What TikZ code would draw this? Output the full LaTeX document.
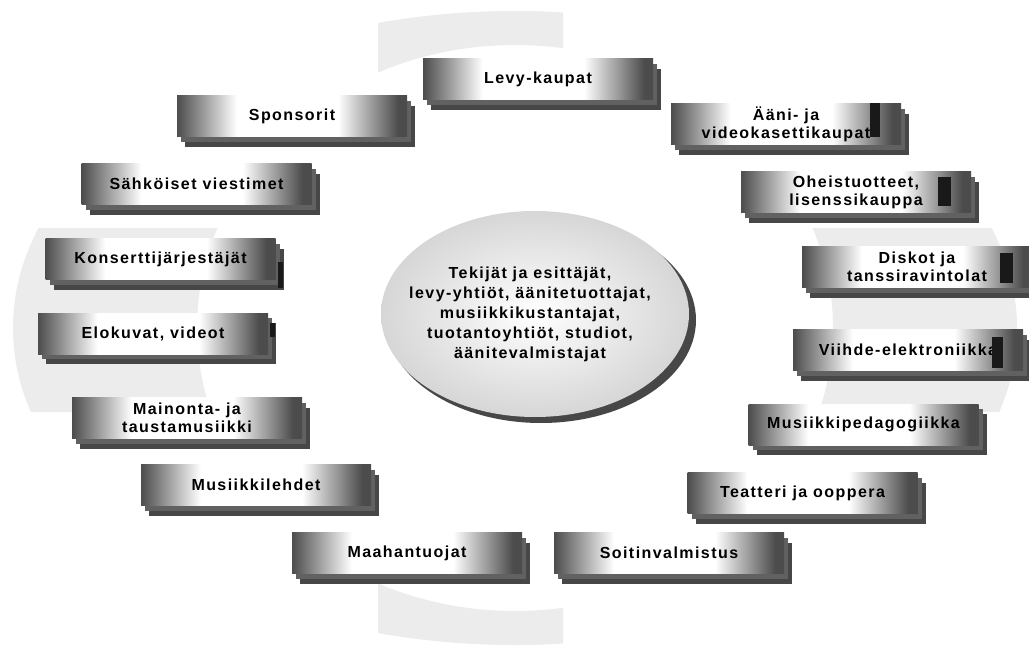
\documentclass[tikz,border=0pt]{standalone}
\usepackage{fontspec}
\newfontfamily\boxfont[LetterSpace=9]{Liberation Sans}
\usetikzlibrary{shadows}
\pgfdeclarehorizontalshading{tileshade}{100bp}{color(0bp)=(black!70); color(25bp)=(black!70); color(38bp)=(white); color(60bp)=(white); color(73bp)=(black!70); color(100bp)=(black!70)}
\tikzset{
  tile/.style={rectangle, minimum width=172.5pt, minimum height=30.75pt, inner sep=1pt,
    align=center, font=\boxfont\bfseries\fontsize{12}{13.5}\selectfont, shading=tileshade,
    general shadow={shadow xshift=6pt, shadow yshift=-7.5pt, fill=black!72},
    general shadow={shadow xshift=3pt, shadow yshift=-3.75pt, fill=black!62}},
  hub/.style={align=center, font=\boxfont\bfseries\fontsize{12}{15}\selectfont},
  artifact/.style={fill=black!90}
}
\begin{document}
\begin{tikzpicture}[x=0.75pt,y=-0.75pt]
\useasboundingbox (0,0) rectangle (1029,653);
\fill[white] (0,0) rectangle (1029,653);
% faint background ring
\begin{scope}
  \clip (378,0) rectangle (563,653) (0,228) rectangle (1029,412);
  \fill[gray!15, even odd rule] (515,328) ellipse [x radius=502, y radius=317]
                                (515,328) ellipse [x radius=318, y radius=283];
\end{scope}
% central ellipse
\fill[black!72] (541,320) ellipse [x radius=155, y radius=103];
\shade[inner color=white, outer color=gray!32] (535,314) ellipse [x radius=154, y radius=103];
\node[hub] (center) at (530,314) {Tekijät ja esittäjät,\\levy-yhtiöt, äänitetuottajat,\\musiikkikustantajat,\\tuotantoyhtiöt, studiot,\\äänitevalmistajat};
% tiles
\node[tile] (levy)      at (538,79)    {Levy-kaupat};
\node[tile] (spons)     at (292,116)   {Sponsorit};
\node[tile] (aani)      at (786,124)   {Ääni- ja\\videokasettikaupat};
\node[tile] (sahko)     at (196.5,184) {Sähköiset viestimet};
\node[tile] (oheis)     at (856,192)   {Oheistuotteet,\\lisenssikauppa};
\node[tile] (konsertti) at (160.5,259) {Konserttijärjestäjät};
\node[tile] (disko)     at (917,267)   {Diskot ja\\tanssiravintolat};
\node[tile] (eloku)     at (153,333.5) {Elokuvat, videot};
\node[tile] (viihde)    at (908,350)   {Viihde-elektroniikka};
\node[tile] (mainonta)  at (187,418)   {Mainonta- ja\\taustamusiikki};
\node[tile] (pedag)     at (863.5,424.5) {Musiikkipedagogiikka};
\node[tile] (lehdet)    at (256,485)   {Musiikkilehdet};
\node[tile] (teatteri)  at (802.5,493) {Teatteri ja ooppera};
\node[tile] (maahan)    at (407,553)   {Maahantuojat};
\node[tile] (soitin)    at (669,553)   {Soitinvalmistus};
% dark bars seen at some tile ends
\fill[artifact] (870,103) rectangle (880,137);
\fill[artifact] (938,177) rectangle (951,206);
\fill[artifact] (1000,253) rectangle (1013,283);
\fill[artifact] (992,337) rectangle (1003,368);
\fill[artifact] (278,262) rectangle (283,288);
\fill[artifact] (270,323) rectangle (275,337);
\end{tikzpicture}
\end{document}
